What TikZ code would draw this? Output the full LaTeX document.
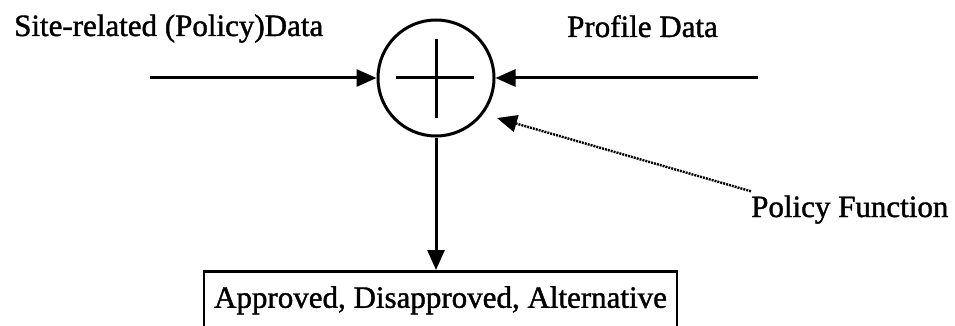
\documentclass[tikz,border=0pt]{standalone}
\usepackage{fontspec}
\setmainfont{Liberation Serif}[FakeBold=1.3]
\usetikzlibrary{arrows.meta}
\begin{document}
\begin{tikzpicture}[x=1pt,y=-1pt,
  lbl/.style={inner sep=0pt,anchor=base west,font=\fontsize{31}{37}\selectfont},
  arr/.style={line width=3pt,-{Triangle[length=20pt,width=17pt]}},
  dotarr/.style={line width=2.4pt,dash pattern=on 2pt off 1pt,-{Triangle[length=20pt,width=17pt]}},
  sumnode/.style={circle,draw,line width=3pt,minimum size=116pt,inner sep=0pt},
  outbox/.style={draw,line width=2.6pt,minimum width=473pt,minimum height=58pt,inner sep=0pt,font=\fontsize{31}{37}\selectfont}]
\useasboundingbox (0,0) rectangle (955,326);
\node[sumnode] (sum) at (436,78) {};
\draw[line width=3pt] (396,78) -- (474,78) (436,39) -- (436,118);
\node[lbl] (site) at (14,36) {Site-related (Policy)Data};
\node[lbl] (prof) at (567,37) {Profile Data};
\node[lbl] (pf) at (751,217) {Policy Function};
\node[outbox,anchor=north] (out) at (440.5,270) {Approved, Disapproved, Alternative};
\coordinate (lin) at (150,78);
\coordinate (rin) at (758,78);
\coordinate (pftip) at (497,118);
\draw[arr] (lin) -- (sum.west);
\draw[arr] (rin) -- (sum.east);
\draw[arr] (sum.south) -- (sum.south |- out.north);
\draw[dotarr] ([yshift=4pt]pf.north west) -- (pftip);
\end{tikzpicture}
\end{document}
